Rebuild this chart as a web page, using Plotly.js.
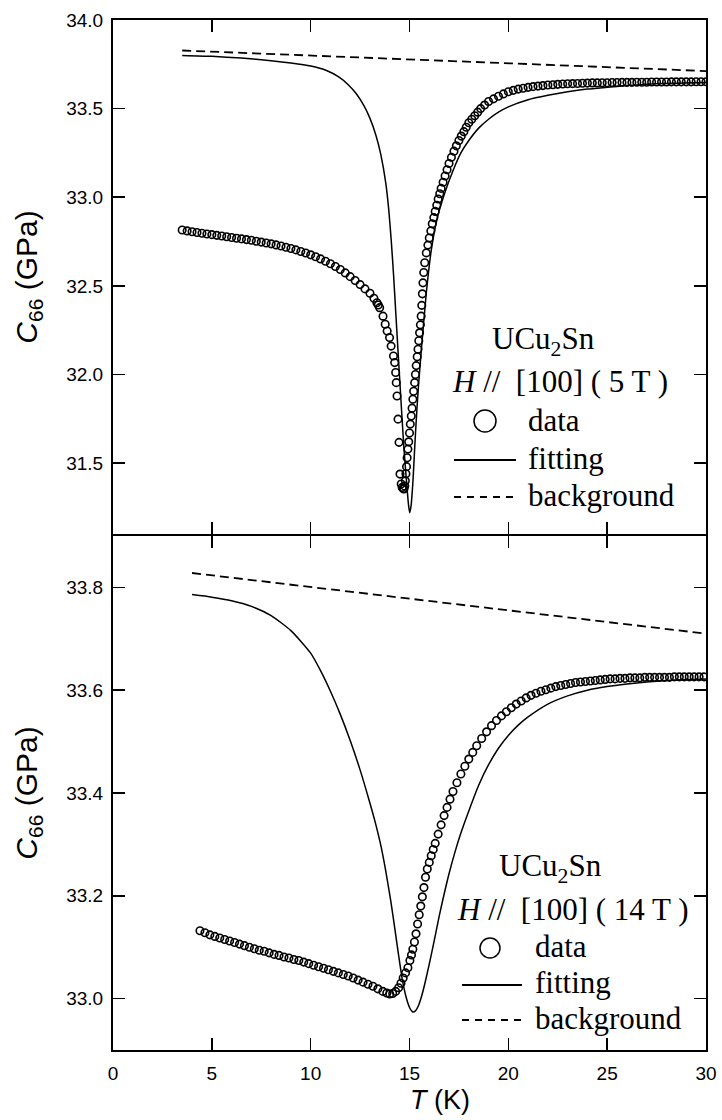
<!DOCTYPE html>
<html><head><meta charset="utf-8">
<script src="https://cdn.plot.ly/plotly-3.0.1.min.js"></script>
<style>body{margin:0;background:#fff}#chart{width:722px;height:1120px}</style>
</head><body><div id="chart"></div>
<script>
// ---------- data: upper panel, H // [100] (5 T) ----------
const topDataT = [3.5,3.75,4,4.25,4.5,4.75,5,5.25,5.5,5.75,6,6.25,6.5,6.75,7,7.25,7.5,7.75,8,8.25,8.5,8.75,9,9.25,9.5,9.75,10,10.25,10.5,10.75,11,11.25,11.5,11.75,12,12.25,12.5,12.75,13,13.2,13.35,13.42,
13.49,13.66,13.77,13.87,13.99,14.07,14.19,14.25,14.30,14.33,14.37,14.42,14.47,14.52,14.58,14.63,14.68,14.72,
14.76,14.79,14.82,14.85,14.88,14.92,14.96,15.00,15.04,15.09,15.13,15.17,15.21,15.26,15.30,15.34,15.39,15.43,15.47,15.51,15.55,15.59,15.62,15.65,15.68,15.72,15.77,15.85,15.93,16.0,16.08,16.15,16.23,16.3,16.38,16.45,16.53,16.6,16.7,16.8,16.9,17.0,17.12,17.25,17.37,17.5,17.62,17.75,17.87,18.0,18.15,18.3,18.45,18.6,18.8,19.0,19.25,19.5,19.75,20.0,20.25,20.5,20.75,21.0,21.25,21.5,21.75,22.0,22.25,22.5,22.75,23.0,23.25,23.5,23.75,24.0,24.25,24.5,24.75,25.0,25.25,25.5,25.75,26.0,26.25,26.5,26.75,27.0,27.25,27.5,27.75,28.0,28.25,28.5,28.75,29.0,29.25,29.5,29.75,30.0];
const topDataC = [32.815,32.810,32.805,32.801,32.797,32.793,32.789,32.785,32.781,32.777,32.773,32.769,32.765,32.761,32.757,32.752,32.747,32.742,32.737,32.731,32.725,32.718,32.711,32.703,32.694,32.685,32.675,32.664,32.652,32.639,32.625,32.609,32.592,32.573,32.552,32.530,32.507,32.483,32.458,32.430,32.405,32.392,
32.377,32.329,32.283,32.245,32.208,32.160,32.104,32.067,32.011,31.954,31.879,31.748,31.617,31.438,31.382,31.363,31.356,31.354,
31.37,31.40,31.44,31.48,31.53,31.579,31.62,31.67,31.72,31.766,31.81,31.86,31.905,31.954,32.00,32.05,32.10,32.142,32.19,32.235,32.28,32.329,32.39,32.455,32.517,32.575,32.630,32.686,32.73,32.77,32.81,32.85,32.885,32.92,32.955,32.99,33.02,33.05,33.085,33.12,33.155,33.19,33.225,33.26,33.29,33.32,33.345,33.37,33.395,33.42,33.44,33.46,33.48,33.50,33.52,33.54,33.555,33.57,33.583,33.595,33.603,33.61,33.615,33.62,33.624,33.627,33.630,33.633,33.635,33.637,33.639,33.640,33.641,33.642,33.643,33.644,33.645,33.645,33.646,33.646,33.647,33.647,33.648,33.648,33.648,33.649,33.649,33.649,33.650,33.650,33.650,33.650,33.651,33.651,33.651,33.651,33.651,33.652,33.652,33.652];

const topFitT = [3.5,5,6.5,8,9,10,10.8,11.4,11.9,12.3,12.7,13.0,13.3,13.55,13.8,13.95,14.08,14.2,14.3,14.5,14.72,14.89,14.95,15.01,15.08,15.17,15.26,15.34,15.45,15.6,15.85,16.1,16.4,16.8,17.2,17.6,18.0,18.5,19.0,19.5,20,21,22,23,24,25,26,27,28,29,30];
const topFitC = [33.800,33.795,33.785,33.770,33.757,33.740,33.715,33.680,33.635,33.585,33.515,33.445,33.350,33.240,33.080,32.930,32.750,32.550,32.360,31.980,31.580,31.340,31.265,31.220,31.260,31.390,31.580,31.740,31.930,32.140,32.460,32.700,32.880,33.030,33.150,33.250,33.320,33.390,33.440,33.480,33.510,33.550,33.575,33.595,33.610,33.620,33.630,33.637,33.642,33.645,33.648];

const topBgT = [3.5, 30];
const topBgC = [33.828, 33.712];

// ---------- data: lower panel, H // [100] (14 T) ----------
const botDataT = [4.40,4.65,4.90,5.15,5.40,5.65,5.90,6.15,6.40,6.65,6.90,7.15,7.40,7.65,7.90,8.15,8.40,8.65,8.90,9.15,9.40,9.65,9.90,10.15,10.40,10.65,10.90,11.15,11.40,11.65,11.90,12.15,12.40,12.65,12.90,13.15,13.40,13.65,13.85,14.00,14.15,14.30,14.45,14.57,14.68,14.80,14.92,15.02,15.10,15.17,15.25,15.33,15.41,15.49,15.57,15.65,15.73,15.81,15.90,16.00,16.10,16.20,16.30,16.45,16.60,16.75,16.90,17.05,17.20,17.40,17.60,17.80,18.00,18.20,18.40,18.65,18.90,19.15,19.40,19.65,19.90,20.15,20.40,20.65,20.90,21.15,21.40,21.65,21.90,22.15,22.40,22.65,22.90,23.15,23.40,23.65,23.90,24.15,24.40,24.65,24.90,25.15,25.40,25.65,25.90,26.15,26.40,26.65,26.90,27.15,27.40,27.65,27.90,28.15,28.40,28.65,28.90,29.15,29.40,29.65,29.90];
const botDataC = [33.132,33.128,33.124,33.121,33.118,33.115,33.112,33.109,33.106,33.103,33.100,33.097,33.094,33.092,33.089,33.086,33.084,33.081,33.079,33.076,33.074,33.071,33.068,33.065,33.062,33.059,33.056,33.053,33.050,33.047,33.044,33.040,33.036,33.032,33.028,33.024,33.019,33.014,33.011,33.009,33.010,33.014,33.021,33.030,33.040,33.050,33.060,33.074,33.085,33.096,33.110,33.126,33.145,33.163,33.180,33.198,33.216,33.236,33.252,33.265,33.278,33.290,33.302,33.320,33.338,33.356,33.372,33.388,33.403,33.420,33.437,33.452,33.466,33.479,33.492,33.506,33.519,33.531,33.541,33.550,33.558,33.566,33.573,33.579,33.585,33.590,33.594,33.598,33.601,33.604,33.607,33.609,33.611,33.613,33.615,33.616,33.617,33.618,33.619,33.620,33.621,33.622,33.622,33.623,33.623,33.624,33.624,33.624,33.625,33.625,33.625,33.625,33.625,33.625,33.626,33.626,33.626,33.626,33.626,33.626,33.626];

const botFitT = [4.0,5,6,7,8,9,10,10.5,11,11.5,12,12.5,13,13.3,13.56,13.8,14.06,14.25,14.42,14.55,14.67,14.8,14.92,15.05,15.17,15.3,15.45,15.6,15.75,15.9,16.1,16.3,16.5,16.75,17.0,17.3,17.6,18,18.5,19,19.5,20,20.5,21,22,23,24,25,26,27,28,29,30];
const botFitC = [33.786,33.781,33.774,33.763,33.745,33.716,33.672,33.638,33.598,33.553,33.502,33.445,33.380,33.338,33.296,33.248,33.188,33.138,33.092,33.058,33.030,33.007,32.991,32.979,32.974,32.976,32.986,33.003,33.025,33.050,33.085,33.122,33.160,33.203,33.243,33.285,33.322,33.365,33.415,33.455,33.487,33.512,33.532,33.548,33.573,33.589,33.600,33.607,33.612,33.616,33.619,33.621,33.622];

const botBgT = [4.0, 30];
const botBgC = [33.828, 33.710];

const xTicks = [0,5,10,15,20,25,30];
const topYTicks = [31.5,32.0,32.5,33.0,33.5,34.0];
const botYTicks = [33.0,33.2,33.4,33.6,33.8];

// ---------- geometry helpers (pixel -> paper) for the in-plot key ----------
const PL = 113, PR = 706, PT = 20, PB = 1050;
const px = x => (x - PL) / (PR - PL);
const py = y => (PB - y) / (PB - PT);
const gap = 1 / (PB - PT);

const SANS = 'Liberation Sans, Arial, sans-serif';
const SERIF = 'Liberation Serif, Times New Roman, serif';

const mk = {symbol:'circle-open', size:7.5, color:'black', line:{width:1.6, color:'black'}};
const fitLine = {color:'black', width:1.5, shape:'spline', smoothing:0.6};
const bgLine = {color:'black', width:1.8, dash:'9px,5px'};

const traces = [
  {x:topBgT, y:topBgC, xaxis:'x2', yaxis:'y2', mode:'lines', line:bgLine},
  {x:topFitT, y:topFitC, xaxis:'x2', yaxis:'y2', mode:'lines', line:fitLine},
  {x:topDataT, y:topDataC, xaxis:'x2', yaxis:'y2', mode:'markers', marker:mk},
  {x:botBgT, y:botBgC, xaxis:'x', yaxis:'y', mode:'lines', line:bgLine},
  {x:botFitT, y:botFitC, xaxis:'x', yaxis:'y', mode:'lines', line:fitLine},
  {x:botDataT, y:botDataC, xaxis:'x', yaxis:'y', mode:'markers', marker:mk}
];

const axCommon = {
  showline:true, linecolor:'black', linewidth:2, mirror:'ticks',
  ticks:'inside', ticklen:12, tickwidth:1.5, tickcolor:'black',
  showgrid:false, zeroline:false, automargin:false,
  tickfont:{family:SANS, size:19, color:'black'}
};

const titleFont = {family:SANS, size:30, color:'black'};

const layout = {
  width:722, height:1120,
  margin:{l:PL, r:722-PR, t:PT, b:1120-PB},
  paper_bgcolor:'white', plot_bgcolor:'white',
  showlegend:false,
  font:{family:SANS, color:'black'},
  xaxis: Object.assign({}, axCommon, {domain:[0,1], anchor:'y', range:[0,30], tickmode:'array', tickvals:xTicks, ticktext:xTicks.map(String), ticklabelstandoff:5}),
  xaxis2: Object.assign({}, axCommon, {domain:[0,1], anchor:'y2', range:[0,30], matches:'x', tickmode:'array', tickvals:xTicks, showticklabels:false}),
  yaxis: Object.assign({}, axCommon, {domain:[0,0.5-gap], anchor:'x', range:[32.9,33.9], tickmode:'array', tickvals:botYTicks, ticktext:botYTicks.map(v=>v.toFixed(1)), ticklabelstandoff:4,
    title:{text:'<i>C</i><sub>66</sub> (GPa)', font:titleFont, standoff:20}}),
  yaxis2: Object.assign({}, axCommon, {domain:[0.5+gap,1], anchor:'x2', range:[31.1,34.0], tickmode:'array', tickvals:topYTicks, ticktext:topYTicks.map(v=>v.toFixed(1)), ticklabelstandoff:4,
    title:{text:'<i>C</i><sub>66</sub> (GPa)', font:titleFont, standoff:20}}),
  shapes:[
    // upper key
    {type:'circle', xref:'paper', yref:'paper', x0:px(474), x1:px(496), y0:py(432), y1:py(410), line:{color:'black', width:1.5}},
    {type:'line', xref:'paper', yref:'paper', x0:px(454), x1:px(516), y0:py(460), y1:py(460), line:{color:'black', width:1.8}},
    {type:'line', xref:'paper', yref:'paper', x0:px(454), x1:px(516), y0:py(497), y1:py(497), line:{color:'black', width:1.8, dash:'7px,6px'}},
    // lower key
    {type:'circle', xref:'paper', yref:'paper', x0:px(480), x1:px(500), y0:py(958), y1:py(938), line:{color:'black', width:1.5}},
    {type:'line', xref:'paper', yref:'paper', x0:px(462), x1:px(522), y0:py(985), y1:py(985), line:{color:'black', width:1.8}},
    {type:'line', xref:'paper', yref:'paper', x0:px(462), x1:px(522), y0:py(1020), y1:py(1020), line:{color:'black', width:1.8, dash:'7px,6px'}}
  ],
  annotations:[
    // x axis title
    {xref:'paper', yref:'paper', x:px(440), y:py(1100), xanchor:'center', yanchor:'middle', showarrow:false,
     text:'<i>T</i> (K)', font:{family:SANS, size:27, color:'black'}},
    // upper key text
    {xref:'paper', yref:'paper', x:px(490), y:py(341), xanchor:'left', yanchor:'middle', showarrow:false, text:'UCu<sub>2</sub>Sn', font:{family:SERIF, size:31, color:'black'}},
    {xref:'paper', yref:'paper', x:px(450), y:py(381), xanchor:'left', yanchor:'middle', showarrow:false, text:'<i>H</i> //&nbsp; [100] ( 5 T )', font:{family:SERIF, size:31, color:'black'}},
    {xref:'paper', yref:'paper', x:px(526), y:py(420), xanchor:'left', yanchor:'middle', showarrow:false, text:'data', font:{family:SERIF, size:31, color:'black'}},
    {xref:'paper', yref:'paper', x:px(526), y:py(458), xanchor:'left', yanchor:'middle', showarrow:false, text:'fitting', font:{family:SERIF, size:31, color:'black'}},
    {xref:'paper', yref:'paper', x:px(526), y:py(495), xanchor:'left', yanchor:'middle', showarrow:false, text:'background', font:{family:SERIF, size:31, color:'black'}},
    // lower key text
    {xref:'paper', yref:'paper', x:px(497), y:py(868), xanchor:'left', yanchor:'middle', showarrow:false, text:'UCu<sub>2</sub>Sn', font:{family:SERIF, size:31, color:'black'}},
    {xref:'paper', yref:'paper', x:px(455), y:py(909), xanchor:'left', yanchor:'middle', showarrow:false, text:'<i>H</i> //&nbsp; [100] ( 14 T )', font:{family:SERIF, size:31, color:'black'}},
    {xref:'paper', yref:'paper', x:px(533), y:py(946), xanchor:'left', yanchor:'middle', showarrow:false, text:'data', font:{family:SERIF, size:31, color:'black'}},
    {xref:'paper', yref:'paper', x:px(533), y:py(982), xanchor:'left', yanchor:'middle', showarrow:false, text:'fitting', font:{family:SERIF, size:31, color:'black'}},
    {xref:'paper', yref:'paper', x:px(533), y:py(1018), xanchor:'left', yanchor:'middle', showarrow:false, text:'background', font:{family:SERIF, size:31, color:'black'}}
  ]
};

Plotly.newPlot('chart', traces, layout, {displayModeBar:false, staticPlot:true});
</script>
</body></html>
